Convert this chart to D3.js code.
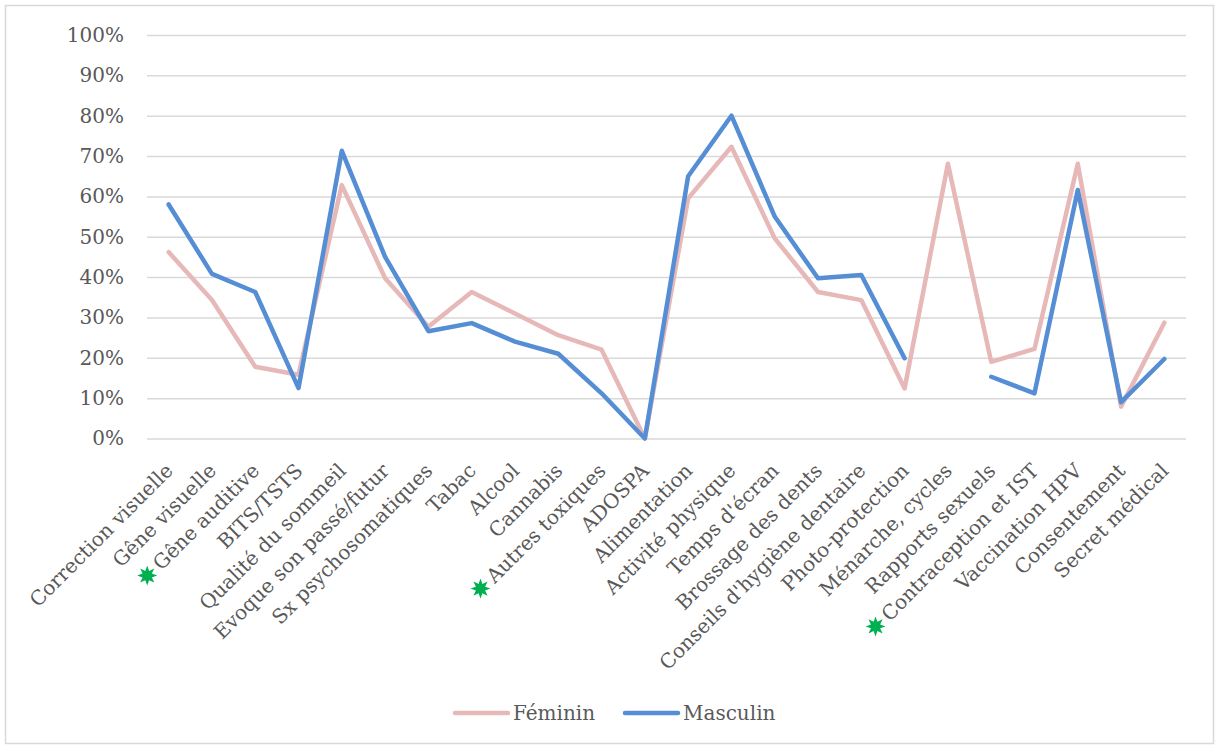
<!DOCTYPE html>
<html>
<head>
<meta charset="utf-8">
<script src="https://cdn.jsdelivr.net/npm/d3@7"></script>
<style>
  html, body { margin: 0; padding: 0; background: #fff; }
  svg { display: block; }
</style>
</head>
<body>
<svg id="chart" width="1215" height="747"></svg>
<script>
const categories = [
  "Correction visuelle", "Gêne visuelle", "Gêne auditive", "BITS/TSTS",
  "Qualité du sommeil", "Evoque son passé/futur", "Sx psychosomatiques", "Tabac",
  "Alcool", "Cannabis", "Autres toxiques", "ADOSPA",
  "Alimentation", "Activité physique", "Temps d'écran", "Brossage des dents",
  "Conseils d'hygiène dentaire", "Photo-protection", "Ménarche, cycles", "Rapports sexuels",
  "Contraception et IST", "Vaccination HPV", "Consentement", "Secret médical"
];
const starred = ["Gêne auditive", "Autres toxiques", "Contraception et IST"];
const feminin = [0.462, 0.343, 0.178, 0.158, 0.628, 0.397, 0.277, 0.363,
                 0.310, 0.256, 0.220, 0.000, 0.595, 0.723, 0.496, 0.363,
                 0.343, 0.124, 0.681, 0.190, 0.222, 0.681, 0.079, 0.287];
const masculin = [0.580, 0.408, 0.363, 0.125, 0.713, 0.450, 0.266, 0.286,
                  0.240, 0.210, 0.112, 0.000, 0.650, 0.800, 0.550, 0.397,
                  0.405, 0.199, null, 0.153, 0.112, 0.616, 0.090, 0.197];
const yTicks = [0, 0.1, 0.2, 0.3, 0.4, 0.5, 0.6, 0.7, 0.8, 0.9, 1.0];
const seriesNames = ["Féminin", "Masculin"];

const colors = { "Féminin": "#E6B9B8", "Masculin": "#558ED5" };
const textColor = "#595959";
const font = "'DejaVu Serif', serif";

const svg = d3.select("#chart");

// outer border
svg.append("rect")
  .attr("x", 5.5).attr("y", 5.5)
  .attr("width", 1208).attr("height", 738)
  .attr("fill", "#fff").attr("stroke", "#d9d9d9").attr("stroke-width", 1.5);

const x = d3.scalePoint().domain(categories).range([147, 1186]).padding(0.5);
const y = d3.scaleLinear().domain([0, 1]).range([438.5, 35]);

// gridlines
const yAxis = d3.axisLeft(y).tickValues(yTicks).tickFormat(d3.format(".0%"))
  .tickSize(-(1186 - 147)).tickPadding(23);
const gy = svg.append("g").attr("transform", "translate(147,0)").call(yAxis);
gy.select(".domain").remove();
gy.selectAll(".tick line").attr("stroke", "#d9d9d9").attr("stroke-width", 1.5);
gy.selectAll(".tick text")
  .attr("fill", textColor).style("font-family", font).style("font-size", "20px");

// category labels
const labelTransform = "translate(0,0) rotate(-45)";
const xAxis = d3.axisBottom(x).tickSize(0).tickPadding(0);
const gx = svg.append("g").attr("transform", "translate(0,467)").call(xAxis);
gx.select(".domain").remove();
gx.selectAll(".tick text")
  .attr("fill", textColor)
  .style("font-family", font).style("font-size", "20px")
  .attr("text-anchor", "end")
  .attr("y", 0)
  .attr("dy", "0.35em")
  .attr("transform", labelTransform);

// green stars before some labels
function starPath(ro, ri, n) {
  const pts = [];
  for (let i = 0; i < 2 * n; i++) {
    const r = i % 2 === 0 ? ro : ri;
    const a = Math.PI * i / n - Math.PI / 2;
    pts.push([r * Math.cos(a), r * Math.sin(a)]);
  }
  return "M" + pts.map(p => p.join(",")).join("L") + "Z";
}
gx.selectAll(".tick").each(function(d) {
  if (!starred.includes(d)) return;
  const g = d3.select(this);
  const len = g.select("text").node().getComputedTextLength();
  g.append("path")
    .attr("d", starPath(10, 5, 8))
    .attr("fill", "#00B050")
    .attr("transform", `${labelTransform} translate(${-(len + 13)},0)`);
});

// lines
const series = [
  { name: "Féminin", values: feminin },
  { name: "Masculin", values: masculin }
];
const line = d3.line()
  .defined(d => d.v !== null)
  .x(d => x(d.c))
  .y(d => y(d.v));

svg.append("g").selectAll("path")
  .data(series)
  .join("path")
  .attr("d", s => line(s.values.map((v, i) => ({ c: categories[i], v }))))
  .attr("fill", "none")
  .attr("stroke", s => colors[s.name])
  .attr("stroke-width", 4.5)
  .attr("stroke-linejoin", "round")
  .attr("stroke-linecap", "round");

// legend
const legend = svg.append("g").attr("transform", "translate(453,713)");
const legendItems = [
  { name: seriesNames[0], x0: 0 },
  { name: seriesNames[1], x0: 170 }
];
legendItems.forEach(it => {
  legend.append("line")
    .attr("x1", it.x0 + 2).attr("x2", it.x0 + 55)
    .attr("y1", 0).attr("y2", 0)
    .attr("stroke", colors[it.name]).attr("stroke-width", 4.5)
    .attr("stroke-linecap", "round");
  legend.append("text")
    .attr("x", it.x0 + 60).attr("y", 0).attr("dy", "0.35em")
    .attr("fill", textColor)
    .style("font-family", font).style("font-size", "20px")
    .text(it.name);
});
</script>
</body>
</html>
